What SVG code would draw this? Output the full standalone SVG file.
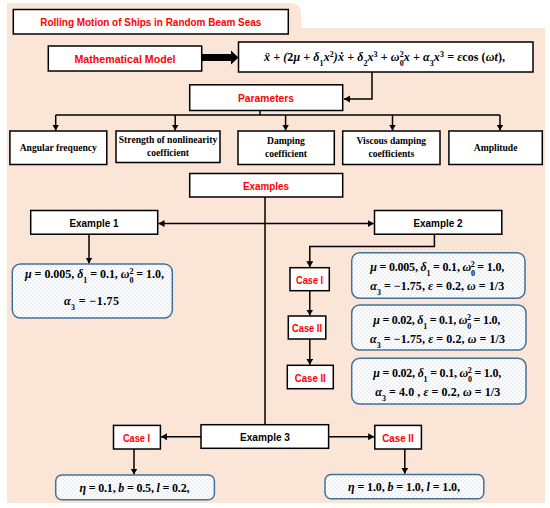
<svg xmlns="http://www.w3.org/2000/svg" width="550" height="508" viewBox="0 0 550 508">
<defs>
<pattern id="dots" width="4" height="4" patternUnits="userSpaceOnUse">
<rect width="4" height="4" fill="#ffffff"/>
<circle cx="1" cy="1" r="0.6" fill="#a9bde0"/>
<circle cx="3" cy="3" r="0.6" fill="#a9bde0"/>
</pattern>
<marker id="ah" markerUnits="userSpaceOnUse" markerWidth="8" markerHeight="8" refX="6" refY="3.5" orient="auto">
<path d="M0,0 L6,3.5 L0,7 Z" fill="#000"/>
</marker>
<style>
.bx{fill:#fff;stroke:#000;stroke-width:1.5}
.pb{fill:url(#dots);stroke:#41719c;stroke-width:1.5}
.red{font-family:"Liberation Sans",Arial,sans-serif;font-weight:bold;font-size:11.8px;fill:#ff0000;text-anchor:middle}
.blk{font-family:"Liberation Sans",Arial,sans-serif;font-weight:bold;font-size:11.8px;fill:#000;text-anchor:middle}
.ser{font-family:"Liberation Serif","DejaVu Serif",serif;font-weight:bold;font-size:9.6px;fill:#000;text-anchor:middle}
.m{font-family:"Liberation Serif","DejaVu Serif",serif;font-weight:bold;font-size:12px;fill:#000;text-anchor:middle}
.i{font-style:italic}
.s{font-size:8px}
.ln{fill:none;stroke:#000;stroke-width:1.5}
.ar{fill:none;stroke:#000;stroke-width:1.5;marker-end:url(#ah)}
</style>
</defs>
<path d="M7,3 H291 Q301,3 301,13 V28 H545 V503 H7 Z" fill="#fbe5d6"/>

<g id="connectors">
<polygon points="202,54 231,54 231,50.5 238.5,57.5 231,64.5 231,61 202,61" fill="#000"/>
<path class="ar" d="M372,72 V99 H344"/>
<path class="ln" d="M260,110.5 V115"/>
<path class="ln" d="M55.7,115 H500"/>
<path class="ar" d="M55.7,115 V130.5"/>
<path class="ar" d="M175.2,115 V130.5"/>
<path class="ar" d="M285.6,115 V130.5"/>
<path class="ar" d="M392.5,115 V130.5"/>
<path class="ar" d="M500,115 V130.5"/>
<path class="ln" d="M265,197 V424.7"/>
<path class="ar" d="M265,223.6 H158.5"/>
<path class="ar" d="M265,223.6 H373.8"/>
<path class="ar" d="M89,234.2 V263.5"/>
<path class="ar" d="M434.4,234.2 V246.5 H309.8 V267.2"/>
<path class="ar" d="M309.8,290.7 V315.5"/>
<path class="ar" d="M309.8,339 V364.8"/>
<path class="ar" d="M201,436.7 H161"/>
<path class="ar" d="M328.6,436.7 H374.2"/>
<path class="ar" d="M134,449 V474.5"/>
<path class="ar" d="M404.8,449 V473.8"/>
</g>

<g id="title">
<rect class="bx" x="13.3" y="9.5" width="275" height="24.5"/>
<text class="red" x="150.8" y="26" textLength="221" lengthAdjust="spacingAndGlyphs">Rolling Motion of Ships in Random Beam Seas</text>
</g>

<g id="math-model">
<rect class="bx" x="48.3" y="46" width="153.4" height="25"/>
<text class="red" x="125" y="62.5" textLength="101" lengthAdjust="spacingAndGlyphs">Mathematical Model</text>
</g>

<g id="equation">
<rect class="bx" x="238.5" y="42" width="294.5" height="30"/>
<text class="m i" x="384.5" y="61" textLength="241"><tspan>ẍ + (</tspan><tspan font-style="normal">2</tspan><tspan>μ + δ</tspan><tspan class="s" baseline-shift="sub" font-style="normal">1</tspan><tspan>x</tspan><tspan class="s" baseline-shift="super" font-style="normal">2</tspan><tspan>)ẋ + δ</tspan><tspan class="s" baseline-shift="sub" font-style="normal">2</tspan><tspan>x</tspan><tspan class="s" baseline-shift="super" font-style="normal">3</tspan><tspan> + ω</tspan><tspan class="s" baseline-shift="sub" font-style="normal">0</tspan><tspan class="s" baseline-shift="super" font-style="normal" dx="-4">2</tspan><tspan>x + α</tspan><tspan class="s" baseline-shift="sub" font-style="normal">3</tspan><tspan>x</tspan><tspan class="s" baseline-shift="super" font-style="normal">3</tspan><tspan> = ε</tspan><tspan font-style="normal">cos (</tspan><tspan>ωt</tspan><tspan font-style="normal">),</tspan></text>
</g>

<g id="parameters">
<rect class="bx" x="189.7" y="84.8" width="153" height="25.7"/>
<text class="red" x="266" y="101.5" textLength="56" lengthAdjust="spacingAndGlyphs">Parameters</text>
</g>

<g id="angular-frequency">
<rect class="bx" x="9.9" y="131" width="96.9" height="33.5"/>
<text class="ser" x="58.3" y="151">Angular frequency</text>
</g>

<g id="strength">
<rect class="bx" x="116" y="131" width="104" height="31.5"/>
<text class="ser" x="168" y="143">Strength of nonlinearity</text>
<text class="ser" x="168" y="156">coefficient</text>
</g>

<g id="damping">
<rect class="bx" x="238" y="131" width="96.3" height="33.5"/>
<text class="ser" x="286" y="144">Damping</text>
<text class="ser" x="286" y="157">coefficient</text>
</g>

<g id="viscous">
<rect class="bx" x="342.7" y="131" width="97.3" height="33.5"/>
<text class="ser" x="391.3" y="144">Viscous damping</text>
<text class="ser" x="391.3" y="157">coefficients</text>
</g>

<g id="amplitude">
<rect class="bx" x="448.9" y="131" width="93.4" height="33.5"/>
<text class="ser" x="495.6" y="151">Amplitude</text>
</g>

<g id="examples">
<rect class="bx" x="189.7" y="173.5" width="153" height="23.5"/>
<text class="red" x="266" y="189.5" textLength="46" lengthAdjust="spacingAndGlyphs">Examples</text>
</g>

<g id="example1">
<rect class="bx" x="30.7" y="210.5" width="127" height="23.7"/>
<text class="blk" x="94" y="226.5" textLength="49" lengthAdjust="spacingAndGlyphs">Example 1</text>
</g>

<g id="example2">
<rect class="bx" x="374.5" y="210.5" width="127.3" height="23.7"/>
<text class="blk" x="438" y="226.5" textLength="49" lengthAdjust="spacingAndGlyphs">Example 2</text>
</g>

<g id="ex1-params">
<rect class="pb" x="12.3" y="264" width="160" height="54" rx="8"/>
<text class="m" x="94.5" y="277.5" textLength="139"><tspan class="i">μ</tspan> = 0.005, <tspan class="i">δ</tspan><tspan class="s" baseline-shift="sub">1</tspan> = 0.1, <tspan class="i">ω</tspan><tspan class="s" baseline-shift="sub">0</tspan><tspan class="s" baseline-shift="super" dx="-4">2</tspan> = 1.0,</text>
<text class="m" x="91.5" y="304.5" textLength="55"><tspan class="i">α</tspan><tspan class="s" baseline-shift="sub">3</tspan> =  −1.75</text>
</g>

<g id="ex2-case1">
<rect class="bx" x="290" y="267.7" width="39.3" height="23"/>
<text class="red" x="309.6" y="283.5" textLength="27" lengthAdjust="spacingAndGlyphs">Case I</text>
</g>

<g id="ex2-case2a">
<rect class="bx" x="288.3" y="316" width="37.5" height="23"/>
<text class="red" x="307" y="332" textLength="30" lengthAdjust="spacingAndGlyphs">Case II</text>
</g>

<g id="ex2-case2b">
<rect class="bx" x="287.3" y="365.3" width="46" height="23.4"/>
<text class="red" x="310.3" y="381.5" textLength="31" lengthAdjust="spacingAndGlyphs">Case II</text>
</g>

<g id="ex2-params1">
<rect class="pb" x="351.7" y="252.7" width="173.3" height="45.6" rx="8"/>
<text class="m" x="437.2" y="271" textLength="134"><tspan class="i">μ</tspan> = 0.005, <tspan class="i">δ</tspan><tspan class="s" baseline-shift="sub">1</tspan> = 0.1, <tspan class="i">ω</tspan><tspan class="s" baseline-shift="sub">0</tspan><tspan class="s" baseline-shift="super" dx="-4">2</tspan> = 1.0,</text>
<text class="m" x="437.2" y="290" textLength="134"><tspan class="i">α</tspan><tspan class="s" baseline-shift="sub">3</tspan> =  −1.75, <tspan class="i">ε</tspan> = 0.2, <tspan class="i">ω</tspan> =  1/3</text>
</g>

<g id="ex2-params2">
<rect class="pb" x="351.7" y="305" width="174.3" height="45" rx="8"/>
<text class="m" x="436.7" y="324" textLength="127"><tspan class="i">μ</tspan> = 0.02, <tspan class="i">δ</tspan><tspan class="s" baseline-shift="sub">1</tspan> = 0.1, <tspan class="i">ω</tspan><tspan class="s" baseline-shift="sub">0</tspan><tspan class="s" baseline-shift="super" dx="-4">2</tspan> = 1.0,</text>
<text class="m" x="437.5" y="342.5" textLength="135"><tspan class="i">α</tspan><tspan class="s" baseline-shift="sub">3</tspan> =  −1.75, <tspan class="i">ε</tspan> = 0.2, <tspan class="i">ω</tspan> =  1/3</text>
</g>

<g id="ex2-params3">
<rect class="pb" x="351.7" y="358.3" width="174.3" height="45.7" rx="8"/>
<text class="m" x="437.2" y="376.5" textLength="128"><tspan class="i">μ</tspan> = 0.02, <tspan class="i">δ</tspan><tspan class="s" baseline-shift="sub">1</tspan> = 0.1, <tspan class="i">ω</tspan><tspan class="s" baseline-shift="sub">0</tspan><tspan class="s" baseline-shift="super" dx="-4">2</tspan> = 1.0,</text>
<text class="m" x="437.7" y="396" textLength="125"><tspan class="i">α</tspan><tspan class="s" baseline-shift="sub">3</tspan> =  4.0 , <tspan class="i">ε</tspan> = 0.2, <tspan class="i">ω</tspan> =  1/3</text>
</g>

<g id="example3">
<rect class="bx" x="201" y="424.7" width="127.6" height="23.6"/>
<text class="blk" x="265" y="441" textLength="50" lengthAdjust="spacingAndGlyphs">Example 3</text>
</g>

<g id="ex3-case1">
<rect class="bx" x="113.5" y="425.4" width="46.9" height="23.6"/>
<text class="red" x="136.5" y="441.5" textLength="27" lengthAdjust="spacingAndGlyphs">Case I</text>
</g>

<g id="ex3-case2">
<rect class="bx" x="374.8" y="425.4" width="46.6" height="23.6"/>
<text class="red" x="398" y="441.5" textLength="31.5" lengthAdjust="spacingAndGlyphs">Case II</text>
</g>

<g id="ex3-params1">
<rect class="pb" x="55.7" y="475" width="158.7" height="24.8" rx="6"/>
<text class="m" x="134.5" y="491.5" textLength="110"><tspan class="i">η</tspan> = 0.1, <tspan class="i">b</tspan> = 0.5, <tspan class="i">l</tspan> = 0.2,</text>
</g>

<g id="ex3-params2">
<rect class="pb" x="325" y="474.4" width="158.8" height="24.3" rx="6"/>
<text class="m" x="404" y="491" textLength="112"><tspan class="i">η</tspan> = 1.0, <tspan class="i">b</tspan> = 1.0, <tspan class="i">l</tspan> = 1.0,</text>
</g>
</svg>
